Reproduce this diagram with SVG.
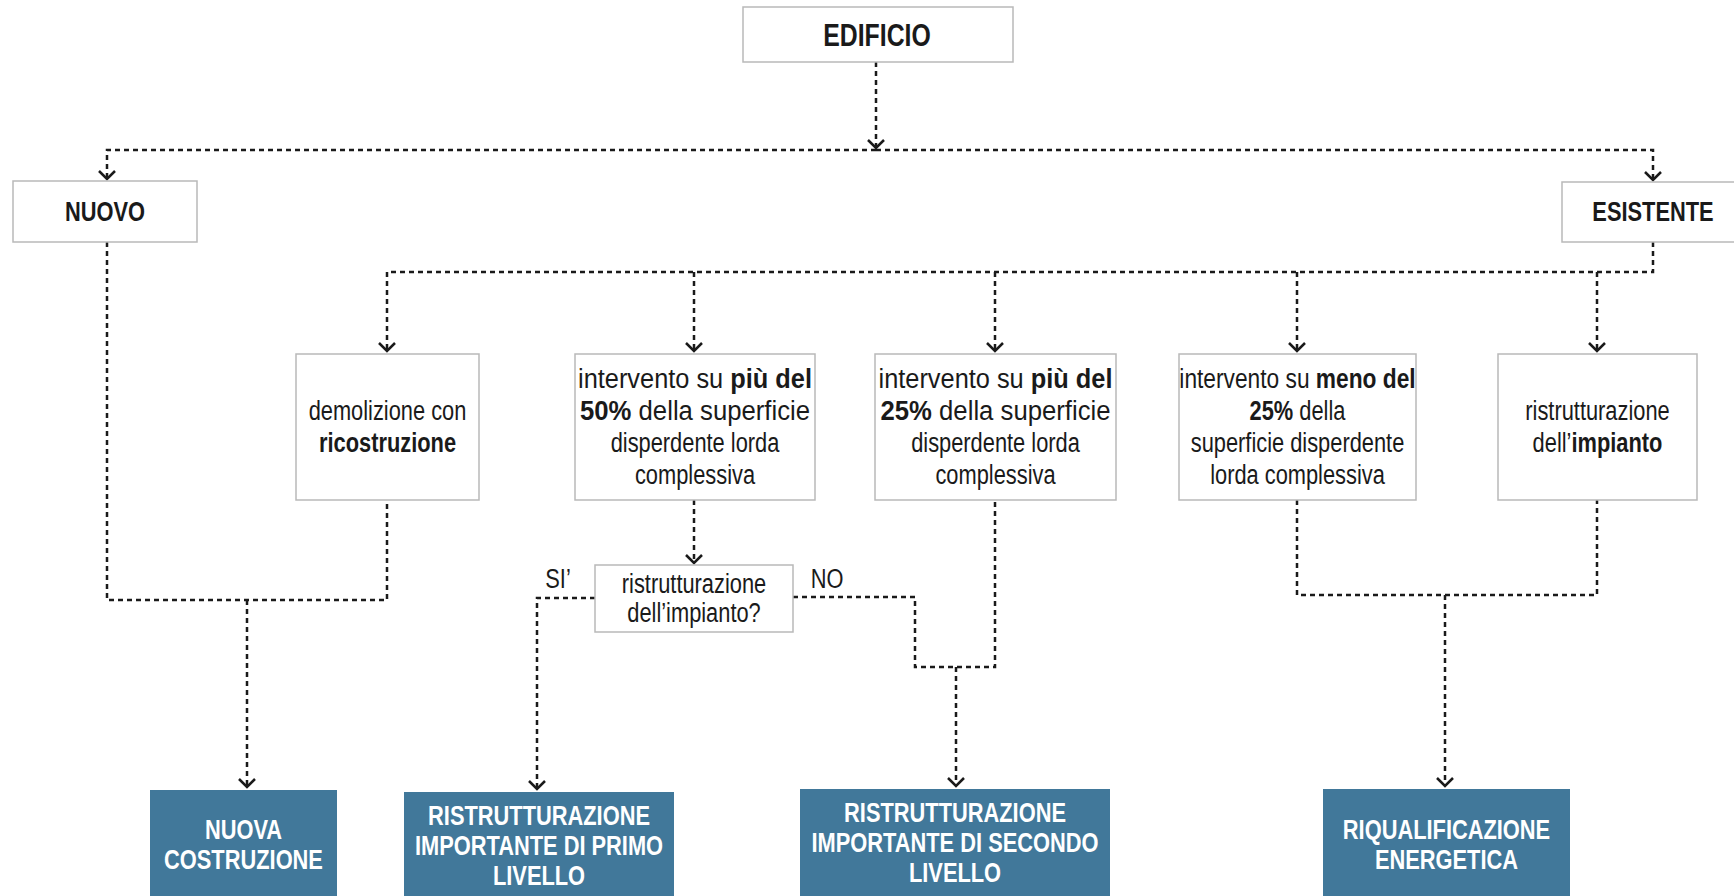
<svg xmlns="http://www.w3.org/2000/svg" width="1734" height="896" viewBox="0 0 1734 896">
<defs>
<style>
.box{fill:#fff;stroke:#b9b9b9;stroke-width:1.5}
.res{fill:#41789a}
.t{font-family:"Liberation Sans",Arial,sans-serif;font-size:28px;fill:#1a1a1a;text-anchor:middle}
.b{font-weight:bold}
.w{fill:#fff;font-weight:bold}
.conn path{fill:none;stroke:#1a1a1a;stroke-width:2.5;stroke-dasharray:5 4}
</style>
<marker id="arr" viewBox="-10 -10 20 20" markerWidth="20" markerHeight="20" markerUnits="userSpaceOnUse" orient="auto" refX="0" refY="0">
<path d="M-8,-8 L0,0 L-8,8" fill="none" stroke="#1a1a1a" stroke-width="2.5" stroke-dasharray="none"/>
</marker>
</defs>
<rect width="1734" height="896" fill="#fff"/>

<g id="connectors" class="conn">
<path d="M876,62 V148" marker-end="url(#arr)"/>
<path d="M876,150 H107 V179" marker-end="url(#arr)"/>
<path d="M876,150 H1653 V180" marker-end="url(#arr)"/>
<path d="M1653,242 V272 H387 V351" marker-end="url(#arr)"/>
<path d="M694,272 V351" marker-end="url(#arr)"/>
<path d="M995,272 V351" marker-end="url(#arr)"/>
<path d="M1297,272 V351" marker-end="url(#arr)"/>
<path d="M1597,272 V351" marker-end="url(#arr)"/>
<path d="M107,242 V600 H387 V500"/>
<path d="M247,600 V787" marker-end="url(#arr)"/>
<path d="M694,500 V563" marker-end="url(#arr)"/>
<path d="M595,598 H537 V789" marker-end="url(#arr)"/>
<path d="M793,597 H915 V667 H995 V500"/>
<path d="M956,667 V786" marker-end="url(#arr)"/>
<path d="M1297,500 V595 H1597 V500"/>
<path d="M1445,595 V786" marker-end="url(#arr)"/>
</g>

<g id="edificio">
<rect class="box" x="743" y="7" width="270" height="55"/>
<text class="t b" transform="translate(877,46) scale(0.8,1)" style="font-size:31px">EDIFICIO</text>
</g>
<g id="nuovo">
<rect class="box" x="13" y="181" width="184" height="61"/>
<text class="t b" transform="translate(105,221) scale(0.78,1)">NUOVO</text>
</g>
<g id="esistente">
<rect class="box" x="1562" y="182" width="183" height="60"/>
<text class="t b" transform="translate(1653,221) scale(0.78,1)">ESISTENTE</text>
</g>
<g id="demolizione">
<rect class="box" x="296" y="354" width="183" height="146"/>
<text class="t" transform="translate(387.5,420) scale(0.78,1)"><tspan x="0">demolizione con</tspan><tspan x="0" dy="32" class="b">ricostruzione</tspan></text>
</g>
<g id="piu50">
<rect class="box" x="575" y="354" width="240" height="146"/>
<text class="t" transform="translate(695,388) scale(0.78,1)" textLength="300" lengthAdjust="spacingAndGlyphs">intervento su <tspan class="b">più del</tspan></text>
<text class="t" transform="translate(695,420) scale(0.78,1)" textLength="295" lengthAdjust="spacingAndGlyphs"><tspan class="b">50%</tspan> della superficie</text>
<text class="t" transform="translate(695,452) scale(0.78,1)"><tspan x="0">disperdente lorda</tspan><tspan x="0" dy="32">complessiva</tspan></text>
</g>
<g id="piu25">
<rect class="box" x="875" y="354" width="241" height="146"/>
<text class="t" transform="translate(995.5,388) scale(0.78,1)" textLength="300" lengthAdjust="spacingAndGlyphs">intervento su <tspan class="b">più del</tspan></text>
<text class="t" transform="translate(995.5,420) scale(0.78,1)" textLength="295" lengthAdjust="spacingAndGlyphs"><tspan class="b">25%</tspan> della superficie</text>
<text class="t" transform="translate(995.5,452) scale(0.78,1)"><tspan x="0">disperdente lorda</tspan><tspan x="0" dy="32">complessiva</tspan></text>
</g>
<g id="meno25">
<rect class="box" x="1179" y="354" width="237" height="146"/>
<text class="t" transform="translate(1297.5,388) scale(0.78,1)" textLength="303" lengthAdjust="spacingAndGlyphs">intervento su <tspan class="b">meno del</tspan></text>
<text class="t" transform="translate(1297.5,420) scale(0.78,1)"><tspan x="0"><tspan class="b">25%</tspan> della</tspan><tspan x="0" dy="32">superficie disperdente</tspan><tspan x="0" dy="32">lorda complessiva</tspan></text>
</g>
<g id="impianto">
<rect class="box" x="1498" y="354" width="199" height="146"/>
<text class="t" transform="translate(1597.5,420) scale(0.78,1)"><tspan x="0">ristrutturazione</tspan><tspan x="0" dy="32">dell’<tspan class="b">impianto</tspan></tspan></text>
</g>
<g id="domanda">
<rect class="box" x="595" y="565" width="198" height="67"/>
<text class="t" transform="translate(694,593) scale(0.78,1)"><tspan x="0">ristrutturazione</tspan><tspan x="0" dy="29">dell’impianto?</tspan></text>
</g>
<g id="labels">
<text class="t" transform="translate(558,588) scale(0.78,1)">SI’</text>
<text class="t" transform="translate(827,588) scale(0.78,1)">NO</text>
</g>
<g id="nuova-costruzione">
<rect class="res" x="150" y="790" width="187" height="120"/>
<text class="t w" transform="translate(243.5,839) scale(0.78,1)"><tspan x="0">NUOVA</tspan><tspan x="0" dy="30">COSTRUZIONE</tspan></text>
</g>
<g id="primo-livello">
<rect class="res" x="404" y="792" width="270" height="120"/>
<text class="t w" transform="translate(539,825) scale(0.78,1)"><tspan x="0">RISTRUTTURAZIONE</tspan><tspan x="0" dy="30">IMPORTANTE DI PRIMO</tspan><tspan x="0" dy="30">LIVELLO</tspan></text>
</g>
<g id="secondo-livello">
<rect class="res" x="800" y="789" width="310" height="120"/>
<text class="t w" transform="translate(955,822) scale(0.78,1)"><tspan x="0">RISTRUTTURAZIONE</tspan><tspan x="0" dy="30">IMPORTANTE DI SECONDO</tspan><tspan x="0" dy="30">LIVELLO</tspan></text>
</g>
<g id="riqualificazione">
<rect class="res" x="1323" y="789" width="247" height="120"/>
<text class="t w" transform="translate(1446.5,839) scale(0.78,1)"><tspan x="0">RIQUALIFICAZIONE</tspan><tspan x="0" dy="30">ENERGETICA</tspan></text>
</g>
</svg>
